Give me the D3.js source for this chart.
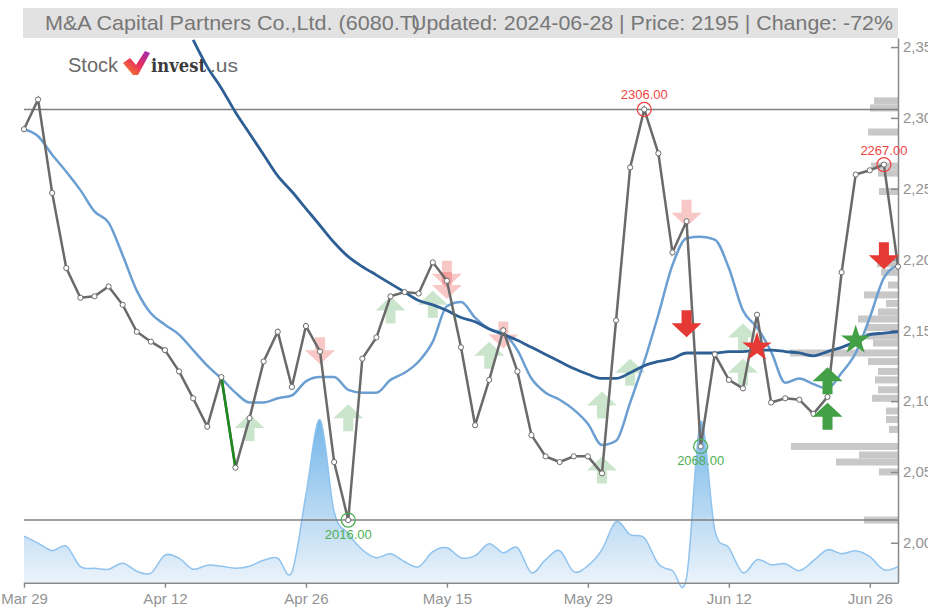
<!DOCTYPE html>
<html>
<head>
<meta charset="utf-8">
<script src="https://cdn.jsdelivr.net/npm/d3@7"></script>
<style>
  body { margin: 0; background: #fff; }
  svg { display: block; font-family: "Liberation Sans", Arial, sans-serif; }
</style>
</head>
<body>
<svg width="928" height="608"></svg>
<script>

// trading-day index ticks and their date labels
var tickIdx = [0, 10, 20, 30, 40, 50, 60];
var tickLabels = ["Mar 29", "Apr 12", "Apr 26", "May 15", "May 29", "Jun 12", "Jun 26"];

// daily closes, Mar 29 .. Jun 28 (63 trading days)
var closes = [2292, 2313, 2247, 2194, 2173, 2174, 2181, 2168, 2149, 2142,
              2136, 2121, 2102, 2082, 2117, 2053, 2088, 2128, 2149, 2110,
              2153, 2135, 2057, 2016, 2130, 2145, 2174, 2177, 2176, 2198,
              2185, 2138, 2083, 2115, 2150, 2121, 2076, 2061, 2057, 2061,
              2061, 2049, 2157, 2265, 2306, 2275, 2205, 2227, 2068, 2133,
              2115, 2109, 2161, 2099, 2102, 2101, 2091, 2103, 2191, 2260,
              2263, 2267, 2195];

// short moving average (light blue)
var fastMA = [2292, 2287, 2274, 2262, 2249, 2234, 2226, 2203, 2178, 2162,
              2154, 2147, 2136, 2125, 2116, 2106, 2099, 2099, 2102, 2104,
              2114, 2117, 2117, 2108, 2106, 2106, 2115, 2120, 2128, 2142,
              2167, 2170, 2159, 2151, 2148, 2136, 2116, 2106, 2101, 2094,
              2084, 2069, 2072, 2099, 2128, 2161, 2196, 2215, 2216, 2214,
              2194, 2164, 2152, 2135, 2113, 2116, 2112, 2109, 2120, 2134,
              2159, 2187, 2196];

// long moving average (dark blue), starts at day 12
var slowStart = 12;
var slowMA = [2355, 2336, 2321, 2304, 2289, 2274, 2259, 2248, 2236, 2224,
              2212, 2202, 2195, 2189, 2183, 2177, 2171, 2168, 2164, 2159,
              2156, 2151, 2147, 2143, 2138, 2133, 2128, 2123, 2119, 2116,
              2116, 2120, 2125, 2128, 2130, 2134, 2134, 2134, 2135, 2135,
              2136, 2136, 2135, 2134, 2132, 2135, 2138, 2142, 2147, 2148,
              2149];

// daily volume, thousands of shares
var volumes = [93, 79, 64, 73, 32, 29, 27, 39, 23, 19,
               55, 49, 27, 35, 33, 29, 33, 45, 49, 21,
               176, 326, 142, 98, 66, 50, 58, 42, 32, 62,
               70, 50, 54, 78, 60, 70, 20, 46, 64, 22,
               34, 66, 122, 96, 90, 38, 24, 10, 322, 106,
               70, 20, 46, 36, 38, 24, 44, 66, 58, 64,
               52, 26, 32];

// volume-by-price profile
var profilePrice = [2312, 2307, 2290, 2266, 2261, 2248, 2197, 2191, 2182, 2175,
                    2169, 2163, 2158, 2152, 2146, 2141, 2134, 2128, 2121, 2115,
                    2108, 2102, 2093, 2087, 2080, 2068, 2062, 2057, 2050, 2016];
var profileVol = [24, 28, 30, 27, 20, 19, 21, 17, 10, 34,
                  12, 20, 40, 32, 32, 25, 108, 30, 20, 23,
                  20, 26, 12, 12, 9, 107, 39, 62, 19, 34];

// support / resistance
var levels = [2306, 2016];

// marked highs and lows
var extremes = [
  { i: 44, v: 2306, kind: "high" },
  { i: 61, v: 2267, kind: "high" },
  { i: 48, v: 2068, kind: "low" },
  { i: 23, v: 2016, kind: "low" }
];

// buy / sell signals: day index, price, shape, faded
var signals = [
  [16, 2081, "up", true], [23, 2088, "up", true], [21, 2136, "down", true],
  [26, 2164, "up", true], [29, 2168, "up", true], [30, 2190, "down", true],
  [30, 2182, "down", true], [33, 2132, "up", true], [34, 2147, "down", true],
  [41, 2097, "up", true], [41, 2051, "up", true], [43, 2120, "up", true],
  [47, 2233, "down", true], [51, 2145, "up", true], [51, 2120, "up", true],
  [47, 2155, "down", false], [52, 2138, "star-red", false],
  [57, 2114, "up", false], [57, 2089, "up", false],
  [59, 2143, "star-green", false], [61, 2203, "down", false]
];

var svg = d3.select("svg");
var plotL = 24, plotR = 898, plotT = 38, plotB = 582.7;

var x = d3.scaleLinear().domain([0, 62]).range([plotL, plotR]);
var y = d3.scaleLinear().domain([1971.8, 2356.4]).range([plotB, plotT]);
var yv = d3.scaleLinear().domain([0, 330]).range([plotB, plotB - 165]);

var defs = svg.append("defs");
var grad = defs.append("linearGradient").attr("id", "volGrad")
  .attr("gradientUnits", "userSpaceOnUse")
  .attr("x1", 0).attr("x2", 0).attr("y1", plotB - 165).attr("y2", plotB);
grad.append("stop").attr("offset", 0).attr("stop-color", "#5aa8e4");
grad.append("stop").attr("offset", 1).attr("stop-color", "#e8f1fa");

defs.append("clipPath").attr("id", "plot")
  .append("rect").attr("x", plotL).attr("y", plotT).attr("width", plotR - plotL).attr("height", plotB - plotT + 10);

// title bar
svg.append("rect").attr("x", 23).attr("y", 8).attr("width", 875).attr("height", 30).attr("fill", "#e2e2e2");
svg.append("text").attr("x", 45).attr("y", 30).attr("font-size", 21).attr("fill", "#777")
  .attr("textLength", 375).attr("lengthAdjust", "spacingAndGlyphs")
  .text("M&A Capital Partners Co.,Ltd. (6080.T)");
svg.append("text").attr("x", 411).attr("y", 30).attr("font-size", 21).attr("fill", "#777")
  .attr("textLength", 482).attr("lengthAdjust", "spacingAndGlyphs")
  .text("Updated: 2024-06-28 | Price: 2195 | Change: -72%");

// logo
var logo = svg.append("g");
logo.append("text").attr("x", 68).attr("y", 72).attr("font-size", 21).attr("fill", "#6a6a6a")
  .attr("textLength", 50).attr("lengthAdjust", "spacingAndGlyphs").text("Stock");
var lg = defs.append("linearGradient").attr("id", "logoGrad").attr("x1", 0).attr("x2", 1).attr("y1", 1).attr("y2", 0);
lg.append("stop").attr("offset", 0).attr("stop-color", "#f7931e");
lg.append("stop").attr("offset", 0.5).attr("stop-color", "#e8305a");
lg.append("stop").attr("offset", 1).attr("stop-color", "#9b2ab8");
logo.append("path").attr("fill", "url(#logoGrad)")
  .attr("d", "M123,63 L130,58 L136,65 L145,51 L150,53 L138,75 L133,75 Z");
logo.append("text").attr("x", 151).attr("y", 72).attr("font-size", 19).attr("font-weight", "bold")
  .attr("font-family", "'DejaVu Serif', serif").attr("fill", "#3b3b3b")
  .attr("textLength", 55).attr("lengthAdjust", "spacingAndGlyphs").text("invest");
logo.append("text").attr("x", 210).attr("y", 72).attr("font-size", 19).attr("fill", "#6a6a6a")
  .attr("textLength", 28).attr("lengthAdjust", "spacingAndGlyphs").text(".us");

// volume area
var area = d3.area().x(function(d, i) { return x(i); }).y0(plotB).y1(function(d) { return yv(d); })
  .curve(d3.curveCardinal.tension(0));
svg.append("path").datum(volumes).attr("d", area).attr("fill", "url(#volGrad)").attr("fill-opacity", 0.85);
svg.append("path").datum(volumes)
  .attr("d", d3.line().x(function(d, i) { return x(i); }).y(function(d) { return yv(d); }).curve(d3.curveCardinal.tension(0)))
  .attr("fill", "none").attr("stroke", "#8fc3ee").attr("stroke-width", 1.5);

// volume profile bars
var pw = d3.scaleLinear().domain([0, 108]).range([0, 108]);
svg.append("g").selectAll("rect").data(profilePrice).join("rect")
  .attr("x", function(d, i) { return plotR - pw(profileVol[i]); })
  .attr("y", function(d) { return y(d) - 3.5; })
  .attr("width", function(d, i) { return pw(profileVol[i]); })
  .attr("height", 7)
  .attr("fill", "#c8c8c8");

// support / resistance lines
svg.append("g").selectAll("line").data(levels).join("line")
  .attr("x1", plotL).attr("x2", plotR)
  .attr("y1", function(d) { return y(d); }).attr("y2", function(d) { return y(d); })
  .attr("stroke", "#808080").attr("stroke-width", 1.5);

// axes
var yAxis = svg.append("g").attr("transform", "translate(" + plotR + ",0)")
  .call(d3.axisRight(y).tickValues([2000, 2050, 2100, 2150, 2200, 2250, 2300, 2350])
    .tickFormat(d3.format(",")).tickSizeInner(-7).tickSizeOuter(0).tickPadding(5));
var xAxis = svg.append("g").attr("transform", "translate(0," + plotB + ")")
  .call(d3.axisBottom(x).tickValues(tickIdx)
    .tickFormat(function(d, i) { return tickLabels[i]; }).tickSizeInner(5).tickSizeOuter(0).tickPadding(6));
[yAxis, xAxis].forEach(function(a) {
  a.select(".domain").attr("stroke", "#8a8a8a").attr("stroke-width", 1.5);
  a.selectAll(".tick line").attr("stroke", "#8a8a8a").attr("stroke-width", 1.5);
  a.selectAll(".tick text").attr("fill", "#939393").attr("font-size", 15)
    .attr("font-family", "'Liberation Sans', Arial, sans-serif");
});

// signal shapes
function arrowPath(dir) {
  var s = dir === "up" ? 1 : -1;
  return "M0," + (-14 * s) + "L15,0L5,0L5," + (13 * s) + "L-5," + (13 * s) + "L-5,0L-15,0Z";
}
function drawSignal(g, d) {
  var isRed = d[2] === "down" || d[2] === "star-red";
  var col = isRed ? "#e53935" : "#43a047";
  var p;
  if (d[2] === "up" || d[2] === "down") p = arrowPath(d[2]);
  else p = d3.symbol(d3.symbolStar).size(270)();
  g.append("path").attr("d", p)
    .attr("transform", "translate(" + x(d[0]) + "," + y(d[1]) + ")")
    .attr("fill", col).attr("fill-opacity", d[3] ? 0.28 : 1);
}
var fadedG = svg.append("g");
signals.filter(function(d) { return d[3]; }).forEach(function(d) { drawSignal(fadedG, d); });

var plot = svg.append("g").attr("clip-path", "url(#plot)");

// moving averages
plot.append("path").datum(fastMA)
  .attr("d", d3.line().x(function(d, i) { return x(i); }).y(function(d) { return y(d); }).curve(d3.curveMonotoneX))
  .attr("fill", "none").attr("stroke", "#6b9fd2").attr("stroke-width", 2.5);
plot.append("path").datum(slowMA)
  .attr("d", d3.line().x(function(d, i) { return x(i + slowStart); }).y(function(d) { return y(d); }).curve(d3.curveMonotoneX))
  .attr("fill", "none").attr("stroke", "#2d5f94").attr("stroke-width", 2.8);

// price line
plot.append("path").datum(closes)
  .attr("d", d3.line().x(function(d, i) { return x(i); }).y(function(d) { return y(d); }))
  .attr("fill", "none").attr("stroke", "#6a6a6a").attr("stroke-width", 2.5);
plot.append("line")
  .attr("x1", x(14)).attr("y1", y(closes[14])).attr("x2", x(15)).attr("y2", y(closes[15]))
  .attr("stroke", "#1e8a1e").attr("stroke-width", 2.5);
svg.append("g").selectAll("circle").data(closes).join("circle")
  .attr("cx", function(d, i) { return x(i); }).attr("cy", function(d) { return y(d); })
  .attr("r", 2.6).attr("fill", "#fff").attr("stroke", "#6a6a6a").attr("stroke-width", 1);

// solid signals
var solidG = svg.append("g");
signals.filter(function(d) { return !d[3]; }).forEach(function(d) { drawSignal(solidG, d); });

// highs and lows
var ext = svg.append("g");
extremes.forEach(function(e) {
  var col = e.kind === "high" ? "#f04545" : "#4caf50";
  ext.append("circle").attr("cx", x(e.i)).attr("cy", y(e.v)).attr("r", 7)
    .attr("fill", "none").attr("stroke", col).attr("stroke-width", 1.3);
  ext.append("text").attr("x", x(e.i)).attr("y", e.kind === "high" ? y(e.v) - 10 : y(e.v) + 19)
    .attr("text-anchor", "middle").attr("font-size", 13).attr("fill", col)
    .text(d3.format(".2f")(e.v));
});

</script>
</body>
</html>
